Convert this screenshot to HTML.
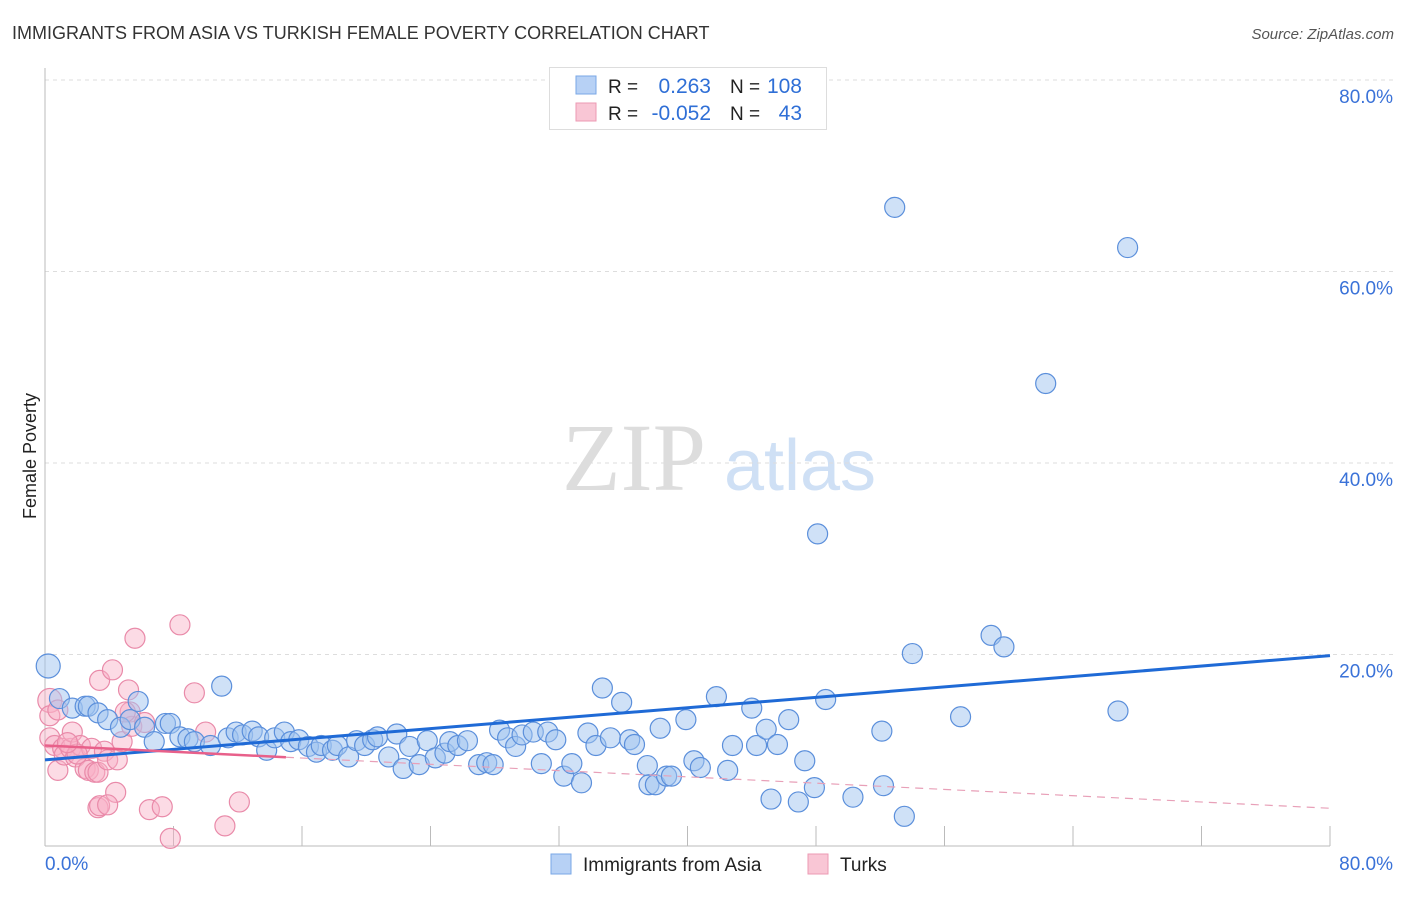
<!DOCTYPE html>
<html><head><meta charset="utf-8"><style>
body{margin:0;background:#fff;font-family:"Liberation Sans",sans-serif}
svg text{font-family:"Liberation Sans",sans-serif}
</style></head><body>
<svg id="chart" width="1406" height="892" xmlns="http://www.w3.org/2000/svg">
<text x="12" y="39" font-size="18" fill="#333">IMMIGRANTS FROM ASIA VS TURKISH FEMALE POVERTY CORRELATION CHART</text>
<text x="1394" y="39" font-size="15" fill="#555" font-style="italic" text-anchor="end">Source: ZipAtlas.com</text>
<text x="36" y="456" font-size="18" fill="#222" text-anchor="middle" transform="rotate(-90 36 456)">Female Poverty</text>
<g><text x="634" y="490" font-size="96" fill="#ddd" text-anchor="middle" font-family="Liberation Serif" style="font-family:'Liberation Serif',serif">ZIP</text><text x="800" y="490" font-size="72" fill="#cfe0f5" text-anchor="middle">atlas</text></g>
<g id="grid"></g>
<g id="axes"></g>
<g id="marks"></g>
<g>
<rect x="549.5" y="67.5" width="277" height="62" fill="#fff" stroke="#ddd"/>
<rect x="576" y="76" width="20" height="18" fill="#b7d1f5" stroke="#7aa7e6"/>
<rect x="576" y="103" width="20" height="18" fill="#f9c6d5" stroke="#ec9ab3"/>
<text x="608" y="93" font-size="19" fill="#222">R =</text><text x="711" y="93" font-size="21" fill="#2f6fd6" text-anchor="end">0.263</text>
<text x="730" y="93" font-size="19" fill="#222">N =</text><text x="802" y="93" font-size="21" fill="#2f6fd6" text-anchor="end">108</text>
<text x="608" y="120" font-size="19" fill="#222">R =</text><text x="711" y="120" font-size="21" fill="#2f6fd6" text-anchor="end">-0.052</text>
<text x="730" y="120" font-size="19" fill="#222">N =</text><text x="802" y="120" font-size="21" fill="#2f6fd6" text-anchor="end">43</text>
</g>
<g>
<rect x="551" y="854" width="20" height="20" fill="#b7d1f5" stroke="#7aa7e6"/>
<text x="583" y="871" font-size="19" fill="#222">Immigrants from Asia</text>
<rect x="808" y="854" width="20" height="20" fill="#f9c6d5" stroke="#ec9ab3"/>
<text x="840" y="871" font-size="19" fill="#222">Turks</text>
</g>
</svg>
<script>
const blueX=[0.2,0.9,1.7,2.5,2.7,3.3,3.9,4.7,5.3,5.8,6.2,6.8,7.5,7.8,8.4,8.9,9.3,10.3,11.0,11.4,11.9,12.3,12.9,13.3,13.8,14.3,14.9,15.3,15.8,16.4,16.9,17.2,17.9,18.2,18.9,19.4,19.9,20.4,20.7,21.9,21.4,22.3,22.7,23.3,23.8,24.3,24.9,25.2,25.7,26.3,27.0,27.5,27.9,28.3,28.8,29.3,29.7,30.4,31.3,31.8,30.9,32.3,32.8,33.4,33.8,34.3,34.7,35.2,35.9,36.4,36.7,37.5,37.6,38.0,38.3,38.7,39.0,39.9,40.4,40.8,41.8,42.5,42.8,44.0,44.3,44.9,45.2,45.6,46.3,46.9,47.3,47.9,48.1,48.6,50.3,52.1,52.2,52.9,53.5,54.0,57.0,58.9,59.7,62.3,66.8,67.4];
const blueY=[18.8,15.4,14.4,14.6,14.6,13.9,13.2,12.4,13.2,15.1,12.4,10.9,12.8,12.8,11.4,11.2,10.9,10.5,16.7,11.3,11.9,11.6,12.0,11.4,10.0,11.3,11.9,10.9,11.1,10.4,9.8,10.5,10.0,10.5,9.3,11.0,10.5,11.1,11.4,11.7,9.3,8.1,10.4,8.5,11.0,9.2,9.7,10.9,10.5,11.0,8.5,8.7,8.5,12.1,11.3,10.4,11.6,11.9,11.9,11.1,8.6,7.3,8.6,6.6,11.8,10.5,16.5,11.3,15.0,11.1,10.6,8.4,6.4,6.4,12.3,7.3,7.3,13.2,8.9,8.2,15.6,7.9,10.5,14.4,10.5,12.2,4.9,10.6,13.2,4.6,8.9,6.1,32.6,15.3,5.1,12.0,6.3,66.7,3.1,20.1,13.5,22.0,20.8,48.3,14.1,62.5];
const pinkX=[0.3,0.3,0.3,0.6,0.8,1.1,1.2,1.6,1.7,1.9,2.2,2.5,2.7,2.9,3.1,3.3,3.4,3.7,3.9,4.2,4.4,4.5,4.8,5.2,5.3,5.4,5.6,6.2,6.5,7.3,7.8,8.4,9.3,10.0,11.2,12.1,3.3,3.4,3.9,5.0,0.8,2.0,1.4];
const pinkY=[15.2,13.6,11.3,10.5,7.9,10.2,9.5,10.2,11.9,9.3,10.5,8.1,7.9,10.2,7.7,7.7,17.3,9.9,9.0,18.4,5.6,9.0,10.9,16.3,14.0,12.5,21.7,12.9,3.8,4.1,0.8,23.1,16.0,11.9,2.1,4.6,4.0,4.2,4.3,14.0,14.2,9.6,10.8];
const blueTrend=[9.0,0.136];
const pinkTrend=[10.5,-0.082];
const xTicks=[8,16,24,32,40,48,56,64,72,80];
const yTicks=[20,40,60,80];
const yTickLabels=["20.0%","40.0%","60.0%","80.0%"];
const xEndLabels=["0.0%","80.0%"];
const X0=45,X1=1330,Y0=846,Y1=80;
const sx=v=>X0+(X1-X0)*v/80, sy=v=>Y0-(Y0-Y1)*v/80;
const NS="http://www.w3.org/2000/svg";
function mk(p,t,a){const e=document.createElementNS(NS,t);for(const k in a)e.setAttribute(k,a[k]);p.appendChild(e);return e;}
const grid=document.getElementById('grid'),axes=document.getElementById('axes'),marks=document.getElementById('marks');
yTicks.forEach((v,i)=>{
 const l=mk(grid,'line',{x1:X0,x2:1394,y1:sy(v),y2:sy(v),stroke:'#ddd','stroke-dasharray':'4,4'});
 
 
 const t=mk(axes,'text',{x:1393,y:sy(v)+23,'font-size':19,fill:'#3a72d8','text-anchor':'end'});
 t.textContent=yTickLabels[i];
 
 
});
let ax=mk(axes,'line',{x1:X0,x2:X0,y1:68,y2:Y0,stroke:'#bbb'});


ax=mk(axes,'line',{x1:X0,x2:X1,y1:Y0,y2:Y0,stroke:'#bbb'});


xTicks.forEach(v=>{
 const l=mk(axes,'line',{x1:sx(v),x2:sx(v),y1:Y0-20,y2:Y0,stroke:'#bbb'});
 
 
});
let t=mk(axes,'text',{x:45,y:870,'font-size':19,fill:'#3a72d8'});t.textContent=xEndLabels[0];


t=mk(axes,'text',{x:1393,y:870,'font-size':19,fill:'#3a72d8','text-anchor':'end'});t.textContent=xEndLabels[1];


function dots(xs,ys,fill,stroke,name){xs.forEach((x,i)=>{const r=(i==0)?12:10;
 const c=mk(marks,'circle',{cx:sx(x),cy:sy(ys[i]),r:r,fill:fill,stroke:stroke,'stroke-width':1.2});
 
 });}
dots(pinkX,pinkY,'rgba(248,175,198,0.45)','#e98aa9','turks-point');
dots(blueX,blueY,'rgba(160,196,240,0.5)','#5b8fdb','asia-point');
const bf=blueTrend;
let ln=mk(marks,'line',{x1:sx(0),y1:sy(bf[0]),x2:sx(80),y2:sy(bf[0]+bf[1]*80),stroke:'#1f6ad6','stroke-width':3});


const pf=pinkTrend;const pmax=15;
ln=mk(marks,'line',{x1:sx(0),y1:sy(pf[0]),x2:sx(pmax),y2:sy(pf[0]+pf[1]*pmax),stroke:'#e8608a','stroke-width':2.5});


ln=mk(marks,'line',{x1:sx(pmax),y1:sy(pf[0]+pf[1]*pmax),x2:sx(80),y2:sy(pf[0]+pf[1]*80),stroke:'#e8a0b8','stroke-width':1.2,'stroke-dasharray':'8,6'});


</script>
</body></html>
